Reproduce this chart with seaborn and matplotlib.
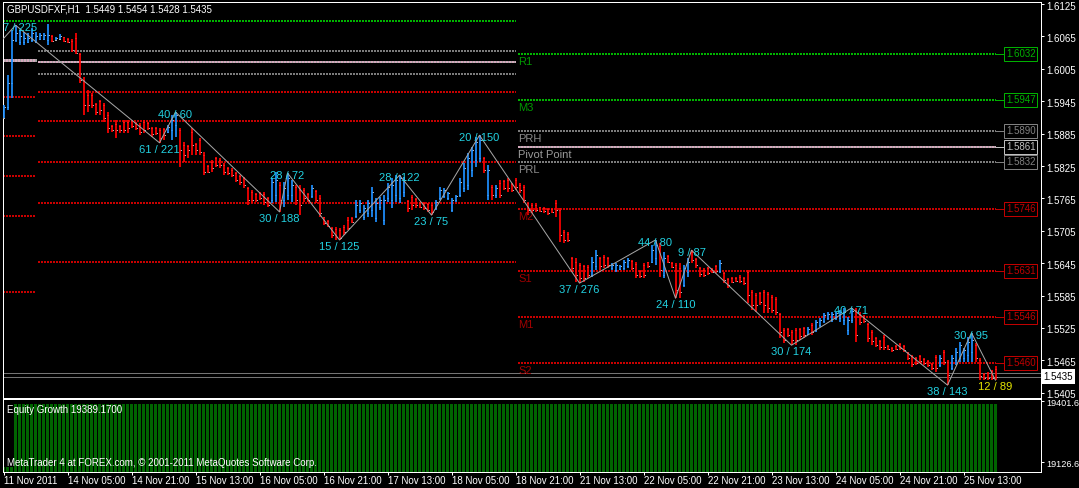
import matplotlib
matplotlib.use('Agg')  # no display
import matplotlib.pyplot as plt
import matplotlib.transforms as mtransforms
import numpy as np
import pandas as pd
import seaborn as sns

# GBPUSDFXF H1 bars, oldest first (11 Nov 2011 .. 25 Nov 2011 13:00)
opens = [
    1.5914, 1.5934, 1.5979, 1.6058, 1.6055, 1.6055, 1.6055, 1.6058, 1.6055, 1.6060,
    1.6060, 1.6058, 1.6066, 1.6058, 1.6060, 1.6064, 1.6060, 1.6057, 1.6062, 1.6033,
    1.5984, 1.5957, 1.5957, 1.5940, 1.5945, 1.5938, 1.5920, 1.5899, 1.5903, 1.5899,
    1.5907, 1.5907, 1.5908, 1.5905, 1.5901, 1.5907, 1.5905, 1.5895, 1.5895, 1.5892,
    1.5894, 1.5888, 1.5892, 1.5901, 1.5892, 1.5864, 1.5862, 1.5888, 1.5866, 1.5873,
    1.5845, 1.5825, 1.5832, 1.5840, 1.5836, 1.5827, 1.5821, 1.5818, 1.5812, 1.5806,
    1.5803, 1.5784, 1.5777, 1.5773, 1.5775, 1.5773, 1.5766, 1.5762, 1.5771, 1.5790,
    1.5762, 1.5771, 1.5771, 1.5786, 1.5781, 1.5781, 1.5773, 1.5769, 1.5779, 1.5766,
    1.5731, 1.5723, 1.5710, 1.5708, 1.5706, 1.5712, 1.5725, 1.5729, 1.5732, 1.5744,
    1.5731, 1.5738, 1.5744, 1.5729, 1.5749, 1.5725, 1.5766, 1.5762, 1.5771, 1.5766,
    1.5777, 1.5760, 1.5768, 1.5764, 1.5756, 1.5756, 1.5754, 1.5753, 1.5747, 1.5766,
    1.5769, 1.5766, 1.5744, 1.5762, 1.5771, 1.5784, 1.5790, 1.5818, 1.5836, 1.5840,
    1.5840, 1.5771, 1.5786, 1.5771, 1.5793, 1.5797, 1.5799, 1.5792, 1.5799, 1.5790,
    1.5786, 1.5756, 1.5753, 1.5753, 1.5749, 1.5747, 1.5745, 1.5745, 1.5756, 1.5744,
    1.5703, 1.5699, 1.5655, 1.5647, 1.5642, 1.5640, 1.5638, 1.5623, 1.5640, 1.5655,
    1.5656, 1.5655, 1.5636, 1.5632, 1.5634, 1.5636, 1.5640, 1.5649, 1.5643, 1.5630,
    1.5642, 1.5647, 1.5647, 1.5655, 1.5677, 1.5623, 1.5658, 1.5645, 1.5642, 1.5636,
    1.5605, 1.5629, 1.5666, 1.5653, 1.5636, 1.5632, 1.5636, 1.5634, 1.5640, 1.5630,
    1.5627, 1.5616, 1.5617, 1.5617, 1.5619, 1.5617, 1.5629, 1.5592, 1.5586, 1.5590,
    1.5592, 1.5588, 1.5582, 1.5579, 1.5551, 1.5521, 1.5523, 1.5517, 1.5521, 1.5523,
    1.5525, 1.5514, 1.5530, 1.5521, 1.5530, 1.5538, 1.5543, 1.5541, 1.5543, 1.5543,
    1.5540, 1.5521, 1.5540, 1.5558, 1.5551, 1.5547, 1.5532, 1.5517, 1.5506, 1.5501,
    1.5508, 1.5492, 1.5488, 1.5492, 1.5495, 1.5492, 1.5480, 1.5473, 1.5469, 1.5473,
    1.5467, 1.5464, 1.5458, 1.5471, 1.5457, 1.5480, 1.5462, 1.5451, 1.5466, 1.5469,
    1.5469, 1.5475, 1.5480, 1.5493, 1.5466, 1.5440, 1.5441, 1.5445, 1.5449,
]
highs = [
    1.5938, 1.5994, 1.6077, 1.6086, 1.6077, 1.6073, 1.6071, 1.6081, 1.6073, 1.6071,
    1.6071, 1.6088, 1.6068, 1.6064, 1.6070, 1.6064, 1.6062, 1.6060, 1.6071, 1.6034,
    1.5990, 1.5966, 1.5960, 1.5942, 1.5947, 1.5942, 1.5925, 1.5901, 1.5910, 1.5901,
    1.5910, 1.5910, 1.5910, 1.5907, 1.5905, 1.5910, 1.5907, 1.5897, 1.5897, 1.5895,
    1.5895, 1.5901, 1.5920, 1.5925, 1.5895, 1.5870, 1.5864, 1.5895, 1.5868, 1.5877,
    1.5851, 1.5827, 1.5836, 1.5842, 1.5840, 1.5831, 1.5823, 1.5821, 1.5814, 1.5808,
    1.5805, 1.5786, 1.5781, 1.5775, 1.5777, 1.5777, 1.5768, 1.5803, 1.5814, 1.5795,
    1.5795, 1.5812, 1.5799, 1.5790, 1.5790, 1.5784, 1.5775, 1.5790, 1.5781, 1.5771,
    1.5731, 1.5725, 1.5712, 1.5712, 1.5710, 1.5716, 1.5731, 1.5731, 1.5762, 1.5762,
    1.5753, 1.5762, 1.5786, 1.5766, 1.5768, 1.5771, 1.5793, 1.5803, 1.5808, 1.5808,
    1.5805, 1.5762, 1.5771, 1.5766, 1.5758, 1.5758, 1.5756, 1.5756, 1.5762, 1.5786,
    1.5784, 1.5777, 1.5766, 1.5771, 1.5803, 1.5831, 1.5849, 1.5860, 1.5879, 1.5882,
    1.5842, 1.5827, 1.5790, 1.5790, 1.5799, 1.5799, 1.5803, 1.5793, 1.5803, 1.5793,
    1.5790, 1.5758, 1.5756, 1.5756, 1.5749, 1.5749, 1.5747, 1.5747, 1.5762, 1.5747,
    1.5706, 1.5703, 1.5656, 1.5655, 1.5645, 1.5642, 1.5642, 1.5656, 1.5669, 1.5656,
    1.5660, 1.5656, 1.5645, 1.5645, 1.5642, 1.5651, 1.5655, 1.5651, 1.5647, 1.5632,
    1.5645, 1.5647, 1.5679, 1.5688, 1.5682, 1.5666, 1.5660, 1.5647, 1.5645, 1.5645,
    1.5642, 1.5655, 1.5669, 1.5655, 1.5638, 1.5636, 1.5638, 1.5636, 1.5642, 1.5651,
    1.5629, 1.5617, 1.5619, 1.5619, 1.5623, 1.5619, 1.5632, 1.5595, 1.5590, 1.5592,
    1.5595, 1.5592, 1.5586, 1.5582, 1.5553, 1.5525, 1.5525, 1.5521, 1.5525, 1.5525,
    1.5527, 1.5527, 1.5534, 1.5540, 1.5543, 1.5553, 1.5554, 1.5554, 1.5554, 1.5558,
    1.5562, 1.5545, 1.5562, 1.5562, 1.5554, 1.5549, 1.5534, 1.5521, 1.5508, 1.5503,
    1.5512, 1.5493, 1.5490, 1.5493, 1.5497, 1.5493, 1.5480, 1.5475, 1.5471, 1.5475,
    1.5469, 1.5466, 1.5460, 1.5475, 1.5475, 1.5484, 1.5466, 1.5475, 1.5488, 1.5499,
    1.5488, 1.5508, 1.5516, 1.5497, 1.5469, 1.5441, 1.5443, 1.5447, 1.5454,
]
lows = [
    1.5914, 1.5929, 1.5951, 1.6055, 1.6049, 1.6049, 1.6053, 1.6055, 1.6053, 1.6058,
    1.6058, 1.6049, 1.6055, 1.6058, 1.6060, 1.6055, 1.6053, 1.6036, 1.6033, 1.5979,
    1.5920, 1.5925, 1.5932, 1.5920, 1.5920, 1.5907, 1.5886, 1.5888, 1.5877, 1.5886,
    1.5886, 1.5886, 1.5895, 1.5892, 1.5882, 1.5886, 1.5892, 1.5879, 1.5882, 1.5868,
    1.5873, 1.5886, 1.5873, 1.5879, 1.5823, 1.5832, 1.5840, 1.5845, 1.5845, 1.5845,
    1.5808, 1.5812, 1.5814, 1.5823, 1.5821, 1.5808, 1.5808, 1.5805, 1.5795, 1.5790,
    1.5784, 1.5753, 1.5756, 1.5758, 1.5762, 1.5753, 1.5749, 1.5756, 1.5758, 1.5740,
    1.5749, 1.5762, 1.5758, 1.5753, 1.5734, 1.5758, 1.5758, 1.5766, 1.5756, 1.5731,
    1.5716, 1.5712, 1.5692, 1.5688, 1.5688, 1.5697, 1.5706, 1.5719, 1.5729, 1.5738,
    1.5725, 1.5731, 1.5731, 1.5721, 1.5744, 1.5716, 1.5758, 1.5747, 1.5758, 1.5756,
    1.5768, 1.5740, 1.5744, 1.5747, 1.5747, 1.5744, 1.5740, 1.5734, 1.5744, 1.5762,
    1.5766, 1.5762, 1.5740, 1.5758, 1.5768, 1.5777, 1.5781, 1.5805, 1.5823, 1.5832,
    1.5812, 1.5762, 1.5762, 1.5766, 1.5766, 1.5781, 1.5777, 1.5777, 1.5781, 1.5775,
    1.5756, 1.5734, 1.5738, 1.5740, 1.5740, 1.5738, 1.5734, 1.5738, 1.5731, 1.5684,
    1.5682, 1.5684, 1.5629, 1.5610, 1.5608, 1.5610, 1.5617, 1.5619, 1.5632, 1.5632,
    1.5636, 1.5636, 1.5632, 1.5629, 1.5632, 1.5632, 1.5636, 1.5632, 1.5617, 1.5617,
    1.5617, 1.5636, 1.5645, 1.5642, 1.5619, 1.5617, 1.5645, 1.5636, 1.5580, 1.5580,
    1.5601, 1.5619, 1.5645, 1.5636, 1.5619, 1.5619, 1.5623, 1.5627, 1.5627, 1.5627,
    1.5608, 1.5599, 1.5608, 1.5610, 1.5608, 1.5605, 1.5571, 1.5558, 1.5554, 1.5567,
    1.5553, 1.5553, 1.5553, 1.5549, 1.5506, 1.5497, 1.5508, 1.5493, 1.5493, 1.5503,
    1.5506, 1.5512, 1.5512, 1.5517, 1.5527, 1.5534, 1.5540, 1.5536, 1.5540, 1.5536,
    1.5530, 1.5512, 1.5534, 1.5499, 1.5530, 1.5534, 1.5499, 1.5493, 1.5490, 1.5484,
    1.5484, 1.5484, 1.5480, 1.5484, 1.5484, 1.5480, 1.5466, 1.5453, 1.5457, 1.5460,
    1.5457, 1.5453, 1.5447, 1.5443, 1.5453, 1.5457, 1.5419, 1.5447, 1.5457, 1.5462,
    1.5462, 1.5462, 1.5462, 1.5462, 1.5428, 1.5428, 1.5428, 1.5428, 1.5428,
]
closes = [
    1.5934, 1.5979, 1.6058, 1.6071, 1.6066, 1.6062, 1.6062, 1.6071, 1.6066, 1.6068,
    1.6068, 1.6068, 1.6057, 1.6062, 1.6066, 1.6057, 1.6055, 1.6040, 1.6034, 1.5984,
    1.5938, 1.5938, 1.5938, 1.5925, 1.5929, 1.5914, 1.5895, 1.5892, 1.5892, 1.5892,
    1.5892, 1.5895, 1.5899, 1.5895, 1.5888, 1.5892, 1.5895, 1.5884, 1.5886, 1.5877,
    1.5882, 1.5897, 1.5910, 1.5920, 1.5855, 1.5845, 1.5855, 1.5864, 1.5855, 1.5851,
    1.5814, 1.5814, 1.5821, 1.5827, 1.5827, 1.5814, 1.5812, 1.5808, 1.5799, 1.5795,
    1.5790, 1.5762, 1.5762, 1.5762, 1.5766, 1.5758, 1.5753, 1.5795, 1.5799, 1.5762,
    1.5784, 1.5803, 1.5790, 1.5762, 1.5753, 1.5766, 1.5762, 1.5784, 1.5762, 1.5738,
    1.5719, 1.5714, 1.5697, 1.5693, 1.5692, 1.5703, 1.5710, 1.5721, 1.5753, 1.5756,
    1.5747, 1.5756, 1.5777, 1.5756, 1.5762, 1.5762, 1.5786, 1.5790, 1.5799, 1.5803,
    1.5799, 1.5747, 1.5753, 1.5753, 1.5749, 1.5747, 1.5744, 1.5740, 1.5758, 1.5781,
    1.5781, 1.5775, 1.5762, 1.5769, 1.5795, 1.5821, 1.5840, 1.5855, 1.5870, 1.5873,
    1.5818, 1.5818, 1.5771, 1.5784, 1.5771, 1.5784, 1.5784, 1.5781, 1.5786, 1.5781,
    1.5762, 1.5744, 1.5744, 1.5744, 1.5742, 1.5742, 1.5738, 1.5740, 1.5744, 1.5697,
    1.5688, 1.5688, 1.5636, 1.5623, 1.5617, 1.5617, 1.5623, 1.5647, 1.5660, 1.5640,
    1.5642, 1.5642, 1.5642, 1.5642, 1.5640, 1.5647, 1.5651, 1.5636, 1.5623, 1.5621,
    1.5623, 1.5640, 1.5669, 1.5679, 1.5632, 1.5655, 1.5647, 1.5638, 1.5595, 1.5592,
    1.5636, 1.5647, 1.5651, 1.5642, 1.5625, 1.5623, 1.5627, 1.5629, 1.5630, 1.5645,
    1.5614, 1.5605, 1.5610, 1.5612, 1.5612, 1.5608, 1.5586, 1.5567, 1.5567, 1.5573,
    1.5567, 1.5562, 1.5558, 1.5554, 1.5517, 1.5503, 1.5512, 1.5503, 1.5503, 1.5510,
    1.5512, 1.5523, 1.5517, 1.5536, 1.5540, 1.5549, 1.5551, 1.5551, 1.5553, 1.5554,
    1.5554, 1.5540, 1.5556, 1.5512, 1.5536, 1.5538, 1.5506, 1.5501, 1.5493, 1.5490,
    1.5490, 1.5486, 1.5484, 1.5486, 1.5488, 1.5484, 1.5469, 1.5458, 1.5460, 1.5464,
    1.5460, 1.5457, 1.5451, 1.5451, 1.5469, 1.5462, 1.5438, 1.5469, 1.5480, 1.5493,
    1.5484, 1.5499, 1.5503, 1.5469, 1.5436, 1.5432, 1.5432, 1.5432, 1.5435,
]

# Equity Growth indicator window (one value per bar)
equity = [19105.0] * 3 + [19389.17] * 246

# zigzag swing points (bar number, price) and their labels
zz_bar = [-1, 3, 39, 43, 69, 71, 84, 99, 107, 119, 144, 163, 168, 172, 197, 212, 236, 242, 248]
zz_price = [1.6053, 1.6086, 1.5868, 1.5925, 1.5740, 1.5812, 1.5688, 1.5808, 1.5734, 1.5882,
            1.5608, 1.5688, 1.5580, 1.5669, 1.5493, 1.5562, 1.5419, 1.5516, 1.5428]
zz_text = ['', '7 / 225', '61 / 221', '40 / 60', '30 / 188', '28 / 72', '15 / 125', '28 / 122',
           '23 / 75', '20 / 150', '37 / 276', '44 / 80', '24 / 110', '9 / 87', '30 / 174',
           '40 / 71', '38 / 143', '30 / 95', '12 / 89']

# pivot levels: two older sessions (no labels) and the current one
old1_levels = [1.6094, 1.6021, 1.5952, 1.5881, 1.5807, 1.5733, 1.5592]
old1_kinds = ['green', 'pivot', 'red', 'red', 'red', 'red', 'red']
old1_span = (-0.1, 8.2)
old2_levels = [1.6094, 1.6039, 1.6017, 1.5996, 1.5963, 1.5909, 1.5833, 1.5757, 1.5648]
old2_kinds = ['green', 'gray', 'pivot', 'gray', 'red', 'red', 'red', 'red', 'red']
old2_span = (8.7, 128.2)
cur_names = ['R1', 'M3', 'PRH', 'Pivot Point', 'PRL', 'M2', 'S1', 'M1', 'S2']
cur_levels = [1.6032, 1.5947, 1.5890, 1.5861, 1.5832, 1.5746, 1.5631, 1.5546, 1.5460]
cur_kinds = ['green', 'green', 'gray', 'pivot', 'gray', 'red', 'red', 'red', 'red']
cur_span = (128.7, 248.2)

bid, ask = 1.5435, 1.5442
price_ticks = [1.6125, 1.6065, 1.6005, 1.5945, 1.5885, 1.5825, 1.5765, 1.5705, 1.5645,
               1.5585, 1.5525, 1.5465, 1.5405]
equity_ticks = [19401.6, 19126.6]
time_labels = ['11 Nov 2011', '14 Nov 05:00', '14 Nov 21:00', '15 Nov 13:00', '16 Nov 05:00',
               '16 Nov 21:00', '17 Nov 13:00', '18 Nov 05:00', '18 Nov 21:00', '21 Nov 13:00',
               '22 Nov 05:00', '22 Nov 21:00', '23 Nov 13:00', '24 Nov 05:00', '24 Nov 21:00',
               '25 Nov 13:00']
title = 'GBPUSDFXF,H1  1.5449 1.5454 1.5428 1.5435'

BLUE, RED = '#1e90ff', '#ff0000'
line_col = {'green': '#00b400', 'gray': '#7c7c7c', 'red': '#c80000'}
text_col = {'green': '#009a00', 'gray': '#8a8a8a', 'pivot': '#9a9a9a', 'red': '#a00000'}
box_col = {'green': '#00b000', 'gray': '#808080', 'pivot': '#c0c0c0', 'red': '#c00000'}
CYAN, YELLOW = '#22d2e2', '#e6e600'
PX = 0.72  # one screen pixel in points
X0, X1 = -0.125, 259.375  # bar centres fall on pixel centres (4 px per bar)

sns.set_style('dark', {'axes.facecolor': 'black', 'figure.facecolor': 'black'})
plt.rcParams['font.family'] = ['Liberation Sans', 'DejaVu Sans']
plt.rcParams['lines.scale_dashes'] = False

fig = plt.figure(figsize=(10.79, 4.88), dpi=100, facecolor='black')
ax = fig.add_axes([3 / 1079, 1 - 397.5 / 488, 1038 / 1079, 395.5 / 488])
ax2 = fig.add_axes([3 / 1079, 1 - 471.5 / 488, 1038 / 1079, 72.5 / 488])

df = pd.DataFrame({'bar': np.arange(len(closes)), 'open': opens, 'high': highs,
                   'low': lows, 'close': closes})
df['color'] = np.where(df['close'] >= df['open'], BLUE, RED)

# --- price window ---
ax.hlines(df['open'], df['bar'] - 0.25, df['bar'], colors='#b4b4b4', lw=PX,
          antialiased=False, zorder=3)
ax.hlines(df['close'], df['bar'], df['bar'] + 0.25, colors='#b4b4b4', lw=PX,
          antialiased=False, zorder=3)
ax.vlines(df['bar'], df['low'], df['high'], colors=df['color'], lw=1.25,
          antialiased=True, zorder=3.5)


def draw_level(y, span, kind, width=2):
    x = list(span)
    if kind == 'pivot':
        ax.plot(x, [y, y], color='#a4a4a4', lw=width * PX, solid_capstyle='butt',
                antialiased=False, zorder=2)
        ax.plot(x, [y, y], color='#d4a8bc', lw=width * PX, dashes=(2 * PX, 2 * PX),
                antialiased=False, zorder=2)
    else:
        ax.plot(x, [y, y], color=line_col[kind], lw=1.5 * PX, dashes=(2 * PX, 2 * PX),
                antialiased=False, zorder=2)


for lv, k in zip(old1_levels, old1_kinds):
    draw_level(lv, old1_span, k, width=3)
for lv, k in zip(old2_levels, old2_kinds):
    draw_level(lv, old2_span, k)
for name, lv, k in zip(cur_names, cur_levels, cur_kinds):
    draw_level(lv, cur_span, k)
    ax.annotate(name, (cur_span[0], lv), xytext=(0, -8), textcoords='offset pixels',
                ha='left', va='center', fontsize=8, color=text_col.get(k, '#8a8a8a'), zorder=4)
    c = box_col[k]
    ax.plot([cur_span[1], 250.7], [lv, lv], color=c, lw=PX, antialiased=False, zorder=2)
    ax.text(254.3, lv, f'{lv:.4f}', ha='center', va='center', fontsize=7, color=c, zorder=5,
            bbox=dict(boxstyle='square,pad=0.2', fc='black', ec=c, lw=PX))

ax.axhline(ask, color='#747474', lw=PX, antialiased=False, zorder=2)
ax.axhline(bid, color='#747474', lw=PX, antialiased=False, zorder=2)

# zigzag and its swing labels
sns.lineplot(x=zz_bar, y=zz_price, ax=ax, color='#a6a6a6', lw=PX, sort=False,
             estimator=None, zorder=4)
for i in range(1, len(zz_bar)):
    high = zz_price[i] > zz_price[i - 1]
    dx = 5 if i == 1 else 0
    ax.annotate(zz_text[i], (zz_bar[i], zz_price[i]), xytext=(dx, -3 if high else -7),
                textcoords='offset pixels', ha='center', va='center', fontsize=8,
                color=YELLOW if i == len(zz_bar) - 1 else CYAN, zorder=5)

ax.text(260.0, bid, f'{bid:.4f}', ha='left', va='center', fontsize=7, color='black',
        clip_on=False, zorder=6,
        bbox=dict(boxstyle='square,pad=0.25', fc='white', ec='white', lw=0))

ax.set_xlim(X0, X1)
ax.set_ylim(1.539609, 1.612891)
ax.set_xticks([])
ax.yaxis.tick_right()
ax.set_yticks(price_ticks)
ax.set_yticklabels([f'{p:.4f}' for p in price_ticks])
ax.set_xlabel('')
ax.set_ylabel('')

# --- equity window ---
sns.barplot(x=df['bar'].to_numpy(), y=equity, ax=ax2, native_scale=True, color='#006400',
            saturation=1, width=0.75, linewidth=0, errorbar=None)
for p in ax2.patches:
    p.set_antialiased(False)
ax2.set_xlim(X0, X1)
ax2.set_ylim(19085.2, 19411.7)
ax2.set_xticks(np.arange(len(time_labels)) * 16)
ax2.set_xticklabels(time_labels, ha='left')
ax2.yaxis.tick_right()
ax2.set_yticks(equity_ticks)
ax2.set_yticklabels([f'{v:.1f}' for v in equity_ticks])
ax2.set_xlabel('')
ax2.set_ylabel('')

shift = mtransforms.ScaledTranslation(0, -1.5 / 100, fig.dpi_scale_trans)
for a, size in ((ax, 7), (ax2, 6.6)):
    a.set_facecolor('black')
    a.grid(False)
    for s in a.spines.values():
        s.set_visible(True)
        s.set_color('white')
        s.set_linewidth(PX)
    a.tick_params(axis='y', left=False, labelleft=False, right=True, labelright=True,
                  colors='white', length=3 * PX, width=PX, pad=2.0, labelsize=size,
                  direction='out')
    for lab in a.get_yticklabels():
        lab.set_transform(lab.get_transform() + shift)
ax2.tick_params(axis='x', bottom=True, labelbottom=True, colors='white', length=3 * PX,
                width=PX, pad=1.0, labelsize=7, direction='out')

fig.text(7 / 1079, 1 - 10 / 488, title, color='white', fontsize=7, ha='left', va='center')
fig.text(7 / 1079, 1 - 409.7 / 488, 'Equity Growth 19389.1700', color='white', fontsize=7,
         ha='left', va='center')
fig.text(7 / 1079, 1 - 463.3 / 488,
         'MetaTrader 4 at FOREX.com, \u00a9 2001-2011 MetaQuotes Software Corp.',
         color='white', fontsize=7, ha='left', va='center')

plt.savefig('out.png', dpi=100, facecolor='black')
plt.close()
